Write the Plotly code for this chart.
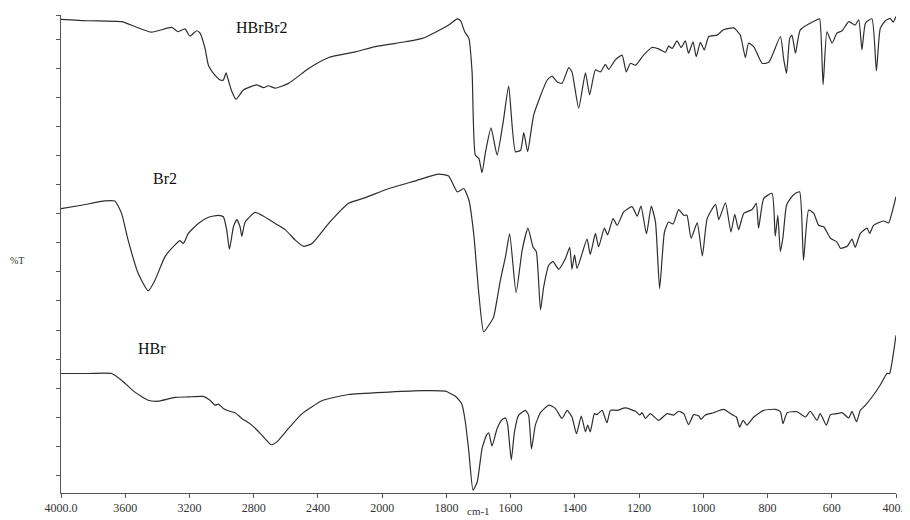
import numpy as np
import plotly.graph_objects as go

# ---- data (wavenumber in cm-1, transmittance in stacked display units) ----
hbrbr2_wn = [4000,3832,3623,3540,3436,3311,3270,3228,3197,3155,3134,3103,3082,3041,3009,2989,2972,2958,2936,2910,
             2864,2780,2739,2708,2666,2583,2458,2333,2167,2042,1927,1875,1834,1793,1766,1756,1743,1730,1720,1710,
             1699,1689,1678,1661,1642,1623,1606,1585,1569,1559,1547,1528,1486,1471,1455,1440,1419,1409,1388,1367,
             1354,1336,1320,1305,1295,1274,1253,1240,1227,1211,1186,1160,1139,1118,1108,1097,1082,1069,1056,1046,
             1032,1022,1009,997,983,957,937,905,885,869,859,843,817,796,760,750,741,731,724,713,
             698,646,638,627,615,599,584,568,547,527,516,506,495,475,461,449,433,418,409,400]
hbrbr2_t = [99.1,98.8,98.6,97.6,96.4,97.4,96.5,97.1,95.6,96.7,96.2,93.0,89.5,87.4,86.4,86.4,87.9,86.4,84.0,82.4,
            84.3,85.4,84.8,85.2,84.7,85.7,88.8,91.1,92.3,93.4,94.4,95.1,96.4,97.9,99.2,98.8,96.5,95.1,88.1,70.7,
            70.0,67.0,71.4,76.4,70.7,77.7,85.1,71.4,71.7,75.4,71.4,79.1,86.4,87.2,86.0,85.7,89.0,88.1,80.5,87.9,
            83.3,88.5,88.1,89.7,88.6,90.6,91.6,88.1,89.9,89.5,91.6,93.2,92.9,92.2,93.5,93.0,94.6,93.2,94.6,92.0,
            94.4,91.3,94.3,92.7,95.5,95.8,96.9,97.3,95.8,91.1,94.1,93.4,89.9,90.1,95.5,90.9,87.8,95.1,95.8,92.0,
            96.9,99.0,99.2,85.4,96.5,94.1,96.2,96.7,98.6,97.9,99.0,92.7,98.3,99.2,88.3,97.2,98.8,99.3,98.5,99.7]

br2_wn = [4000,3873,3727,3665,3623,3582,3519,3457,3415,3353,3290,3259,3238,3207,3145,3082,3020,2989,2968,2951,
          2926,2905,2885,2874,2853,2791,2749,2666,2604,2541,2489,2437,2333,2209,2104,1979,1896,1824,1793,1766,
          1746,1730,1715,1699,1684,1668,1653,1632,1616,1603,1583,1564,1546,1530,1520,1507,1497,1481,1468,1450,
          1429,1416,1409,1401,1393,1362,1352,1336,1326,1308,1298,1281,1268,1248,1222,1206,1194,1177,1162,1149,
          1136,1121,1108,1094,1077,1061,1051,1038,1019,1003,988,962,952,931,914,902,890,874,848,835,
          828,812,786,776,768,760,752,741,729,713,700,688,672,656,641,625,604,584,573,552,
          537,527,511,490,482,470,439,423,412,400]
br2_t = [59.5,60.2,61.1,61.1,58.5,52.9,45.9,42.3,44.5,49.4,51.9,52.8,52.2,54.3,56.4,57.7,58.1,57.8,55.0,51.0,
         55.7,57.2,55.7,53.7,56.7,58.7,58.1,56.4,55.1,52.9,51.6,52.2,56.4,60.6,61.8,63.7,65.3,66.7,66.3,63.0,
         63.7,61.3,54.3,41.7,33.7,35.1,36.8,44.5,49.4,54.2,41.9,50.8,55.4,51.4,50.5,38.3,43.1,47.7,48.4,46.8,
         49.1,51.4,46.8,49.8,47.0,53.1,49.9,54.3,51.5,55.4,54.0,57.4,56.0,58.8,59.9,57.9,60.0,54.2,60.0,56.7,
         42.8,54.6,56.7,56.3,59.3,58.1,58.1,53.3,56.5,49.6,57.4,60.4,57.2,60.7,54.6,58.3,55.1,58.5,59.3,60.6,
         55.4,61.6,62.7,53.7,58.1,50.5,53.5,60.2,61.6,62.7,63.0,48.7,59.2,58.5,56.0,55.7,53.3,52.5,51.2,51.6,
         53.1,51.4,54.3,55.4,54.3,56.0,56.9,56.5,58.8,62.0]

hbr_wn = [4000,3832,3685,3623,3540,3457,3395,3290,3207,3114,3072,3041,3020,2989,2958,2916,2874,2812,2749,2691,
          2655,2583,2499,2375,2209,1979,1875,1803,1787,1771,1752,1741,1730,1717,1704,1689,1675,1668,1658,1642,
          1626,1616,1609,1598,1588,1575,1554,1544,1535,1523,1507,1481,1461,1440,1424,1409,1395,1380,1367,1360,
          1352,1339,1331,1315,1300,1289,1268,1243,1211,1198,1191,1180,1165,1139,1113,1092,1077,1061,1046,1030,
          1014,1007,994,968,937,910,897,887,876,864,843,812,776,760,752,739,708,682,667,646,
          636,617,604,584,568,547,537,523,511,495,470,449,428,420,409,400]
hbr_t = [25.0,25.0,25.0,23.6,21.1,19.4,19.2,20.0,20.1,20.2,19.4,18.4,18.6,17.7,17.2,16.8,15.6,14.2,12.1,10.1,
         10.7,13.5,16.6,19.3,20.6,21.1,21.4,21.3,20.8,20.2,18.6,14.9,8.6,0.6,2.3,9.3,12.1,12.6,9.8,13.5,
         15.4,15.7,14.2,6.9,12.8,16.3,17.3,16.3,9.2,14.2,16.8,18.4,17.7,15.6,17.3,15.9,12.4,16.1,12.8,14.2,
         12.8,16.6,16.4,17.3,14.7,17.3,17.3,17.8,17.1,16.3,16.8,15.6,16.6,15.2,16.6,16.3,17.1,16.6,14.3,16.4,
         16.1,15.4,16.3,16.8,17.5,16.4,15.9,13.8,15.2,14.2,15.9,17.3,17.5,17.0,14.5,16.8,17.0,15.9,17.1,15.2,
         16.6,14.2,16.4,16.6,16.8,15.7,17.1,14.9,17.3,18.4,20.5,22.6,25.0,25.0,28.8,33.0]

tick_wn = [4000, 3600, 3200, 2800, 2400, 2000, 1800, 1600, 1400, 1200, 1000, 800, 600, 400]
tick_labels = ["4000.0", "3600", "3200", "2800", "2400", "2000", "1800", "1600", "1400",
               "1200", "1000", "800", "600", "400.0"]

series_names = ["HBrBr2", "Br2", "HBr"]
label_wn = [2749, 3353, 3434]
label_t = [97.4, 65.7, 30.2]


def xpos(wn):
    """Instrument scale: 400 cm-1 per division above 2000, 200 cm-1 per division below."""
    wn = np.asarray(wn, dtype=float)
    return np.where(wn >= 2000, (4000 - wn) / 400.0, 5 + (2000 - wn) / 200.0)


fig = go.Figure()
for wn, t in [(hbrbr2_wn, hbrbr2_t), (br2_wn, br2_t), (hbr_wn, hbr_t)]:
    fig.add_trace(go.Scatter(x=xpos(wn), y=t, mode="lines",
                             line=dict(color="#2e2e2e", width=1.2, shape="spline", smoothing=0.5),
                             hoverinfo="skip", showlegend=False))

serif = "Liberation Serif, Times New Roman, serif"
for name, lw, lt in zip(series_names, label_wn, label_t):
    fig.add_annotation(x=float(xpos(lw)), y=lt, text=name, showarrow=False,
                       font=dict(family=serif, size=16, color="#111"),
                       xanchor="center", yanchor="middle")

fig.add_annotation(x=-0.0521, xref="paper", y=0.4874, yref="paper", text="%T", showarrow=False,
                   font=dict(family=serif, size=10, color="#333"), xanchor="center", yanchor="middle")
fig.add_annotation(x=0.5, xref="paper", y=-0.0554, yref="paper", text="cm-1", showarrow=False,
                   font=dict(family=serif, size=11, color="#333"), xanchor="center", yanchor="bottom")

ytick_vals = [3.7 + 6.08 * k for k in range(16)] + [100]

# page body keeps an 8px default margin, so the figure is sized/offset to compensate
fig.update_layout(
    width=902, height=512,
    margin=dict(l=53, r=14, t=7, b=27, autoexpand=False),
    paper_bgcolor="white", plot_bgcolor="white",
    xaxis=dict(range=[0, 13], tickvals=list(xpos(tick_wn)), ticktext=tick_labels,
               automargin=False,
               showgrid=False, zeroline=False, showline=True, linecolor="#555", linewidth=1,
               ticks="outside", ticklen=4, tickcolor="#555",
               tickfont=dict(family=serif, size=12, color="#333")),
    yaxis=dict(range=[0, 100], tickvals=ytick_vals, showticklabels=False, automargin=False,
               showgrid=False, zeroline=False, showline=True, linecolor="#555", linewidth=1,
               ticks="outside", ticklen=4, tickcolor="#555"),
)

fig.write_html("out.html")
